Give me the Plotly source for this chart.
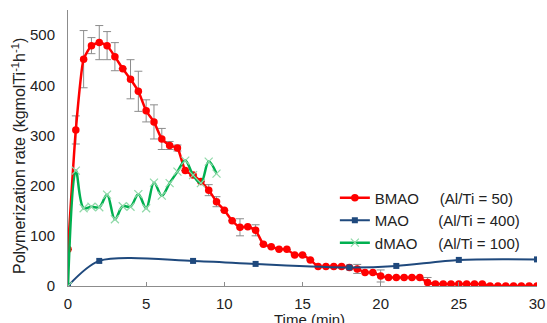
import plotly.graph_objects as go

# ---- data ----
bmao_t = [0, 0.5, 1, 1.5, 2, 2.5, 3, 3.5, 4, 4.5, 5, 5.5, 6, 6.5, 7, 7.5, 8, 8.5, 9, 9.5,
          10, 10.5, 11, 11.5, 12, 12.5, 13, 13.5, 14, 14.5, 15, 15.5, 16, 16.5, 17, 17.5,
          18, 18.5, 19, 19.5, 20, 20.5, 21, 21.5, 22, 22.5, 23, 23.5, 24, 24.5, 25, 25.5,
          26, 26.5, 27, 27.5, 28, 28.5, 29, 29.5, 30]
bmao_v = [73, 311, 452, 479, 485, 479, 457, 433, 412, 388, 349, 327, 293, 280, 275, 230,
          221, 208, 191, 168, 151, 130, 117, 118, 111, 83, 78, 73, 73, 62, 62, 52, 39, 39,
          39, 39, 37, 34, 27, 27, 20, 17, 17, 17, 17, 17, 7, 4, 4, 4, 4, 4, 4, 4, 0, 0, 0,
          0, 0, 0, 0]
bmao_err = [0, 28, 57, 16, 34, 28, 28, 0, 39, 40, 22, 34, 21, 8, 6, 0, 0, 0, 11, 10, 0, 0,
            17, 0, 11, 0, 0, 0, 0, 0, 0, 0, 0, 0, 0, 0, 0, 9, 0, 0, 12, 0, 0, 0, 0, 0, 10,
            0, 0, 0, 0, 0, 0, 0, 0, 0, 0, 0, 0, 0, 0]

mao_t = [0, 2, 8, 12, 18, 21, 25, 30]
mao_v = [0, 50, 50, 44, 37, 40, 52, 53]

dmao_t = [0, 0.5, 1, 1.5, 2, 2.5, 3, 3.5, 4, 4.5, 5, 5.5, 6, 6.5, 7, 7.5, 8, 8.5, 9, 9.5]
dmao_v = [0, 230, 155, 158, 157, 182, 133, 159, 158, 183, 155, 206, 180, 205, 228, 250,
          221, 205, 248, 224]

names = ["BMAO" + "\u00a0" * 5 + "(Al/Ti = 50)",
         "MAO" + "\u00a0" * 7 + "(Al/Ti = 400)",
         "dMAO" + "\u00a0" * 5 + "(Al/Ti = 100)"]

x_ticks = [0, 5, 10, 15, 20, 25, 30]
y_ticks = [0, 100, 200, 300, 400, 500]

FONT = "Liberation Sans, Arial, sans-serif"

fig = go.Figure()
fig.add_trace(go.Scatter(
    x=bmao_t, y=bmao_v, name=names[0], mode="lines+markers",
    line=dict(color="#ff0000", width=2.5, shape="spline", smoothing=0.5),
    marker=dict(symbol="circle", size=7.5, color="#ff0000"),
    error_y=dict(type="data", array=bmao_err, visible=True, color="#8c8c8c",
                 thickness=1, width=4),
))
fig.add_trace(go.Scatter(
    x=mao_t, y=mao_v, name=names[1], mode="lines+markers",
    line=dict(color="#1f497d", width=2, shape="spline", smoothing=0.8),
    marker=dict(symbol="square", size=6, color="#1f497d"),
))
fig.add_trace(go.Scatter(
    x=dmao_t, y=dmao_v, name=names[2], mode="lines+markers",
    line=dict(color="#00b050", width=2.5, shape="spline", smoothing=1),
    marker=dict(symbol="x-thin", size=8, line=dict(color="#8fd9a8", width=1.2)),
))

fig.update_layout(
    width=547, height=323,
    margin=dict(l=68, r=10, t=10, b=37, autoexpand=False),
    paper_bgcolor="white", plot_bgcolor="white",
    font=dict(family=FONT, size=15, color="#222222"),
    showlegend=True,
    legend=dict(x=0.569, y=0.379, xanchor="left", yanchor="top",
                bgcolor="rgba(0,0,0,0)", font=dict(size=15, color="#222222"),
                itemwidth=30, tracegroupgap=0),
    xaxis=dict(range=[0, 30], tickvals=x_ticks, ticktext=[str(v) for v in x_ticks],
               showgrid=False, zeroline=False, showline=True, linecolor="#8c8c8c",
               linewidth=1, ticks="inside", ticklen=4, tickcolor="#8c8c8c",
               tickfont=dict(size=15), ticklabelstandoff=4, automargin=False),
    yaxis=dict(range=[0, 550], tickvals=y_ticks, ticktext=[str(v) for v in y_ticks],
               showgrid=False, zeroline=False, showline=True, linecolor="#8c8c8c",
               linewidth=1, ticks="", tickfont=dict(size=15), ticklabelstandoff=9,
               automargin=False),
    annotations=[
        dict(text="Polymerization rate (kgmolTi<sup>-1</sup>h<sup>-1</sup>)",
             xref="paper", yref="paper", x=-0.106, y=0.472, textangle=-90,
             showarrow=False, font=dict(size=16, color="#222222"),
             xanchor="center", yanchor="middle"),
        dict(text="Time (min)", xref="paper", yref="paper", x=0.514, y=-0.084,
             showarrow=False, font=dict(size=15, color="#222222"),
             xanchor="center", yanchor="top"),
    ],
)

fig.write_html("out.html", config={"displayModeBar": False},
               post_script="document.body.style.margin='0';document.body.style.overflow='hidden';")
